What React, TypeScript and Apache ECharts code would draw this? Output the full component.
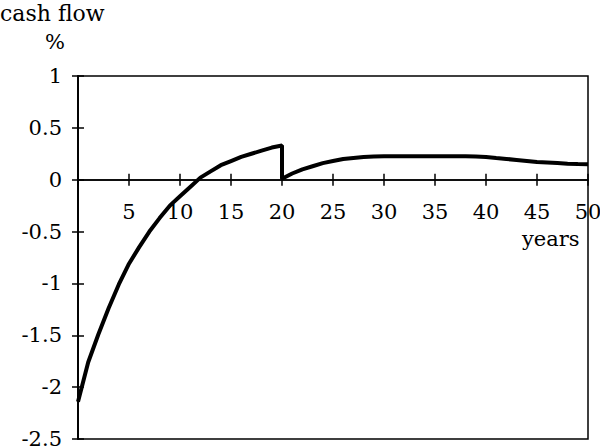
import React, { useEffect, useRef } from "react";
import * as echarts from "echarts";

const years = [
  0, 1, 2, 3, 4, 5, 6, 7, 8, 9, 10, 11, 12, 13, 14, 15, 16, 17, 18, 19, 20, 20,
  21, 22, 23, 24, 25, 26, 27, 28, 29, 30, 31, 32, 33, 34, 35, 36, 37, 38, 39,
  40, 41, 42, 43, 44, 45, 46, 47, 48, 49, 50,
];
const cashFlow = [
  -2.14, -1.76, -1.49, -1.24, -1.01, -0.81, -0.65, -0.5, -0.37, -0.25, -0.16,
  -0.07, 0.02, 0.08, 0.14, 0.18, 0.22, 0.25, 0.28, 0.31, 0.33, 0.01, 0.06, 0.1,
  0.13, 0.16, 0.18, 0.2, 0.21, 0.22, 0.225, 0.226, 0.226, 0.226, 0.226, 0.226,
  0.226, 0.226, 0.226, 0.226, 0.224, 0.22, 0.21, 0.2, 0.19, 0.18, 0.17, 0.165,
  0.16, 0.155, 0.152, 0.15,
];
const yTicks = { min: -2.5, max: 1, interval: 0.5 };
const xTicks = { min: 0, max: 50, interval: 5 };
const yTitle = "cash flow";
const yUnit = "%";
const xTitle = "years";

const FONT = "DejaVu Serif";
const FS = 21;

const W = 600;
const H = 446;
const GRID = { left: 78, right: 12, top: 76, bottom: 7 };

export default function App() {
  const ref = useRef<HTMLDivElement>(null);
  useEffect(() => {
    const chart = echarts.init(ref.current!, null, { renderer: "svg" });
    const data = years.map((y, i) => [y, cashFlow[i]]);
    const axisText = { color: "#000", fontFamily: FONT, fontSize: FS };
    const plotH = H - GRID.top - GRID.bottom;
    const plotW = W - GRID.left - GRID.right;
    const span = yTicks.max - yTicks.min;
    const zeroFromBottom = (plotH * (0 - yTicks.min)) / span;
    const zeroFromTop = (plotH * (yTicks.max - 0)) / span;
    const lineSt = { color: "#000", width: 1.5 };
    chart.setOption({
      animation: false,
      backgroundColor: "#fff",
      grid: {
        ...GRID,
        show: true,
        borderColor: "#000",
        borderWidth: 1.5,
        containLabel: false,
        outerBoundsMode: "none",
      },
      xAxis: [
        {
          type: "value",
          ...xTicks,
          position: "bottom",
          offset: -zeroFromBottom,
          axisLine: { show: true, onZero: false, lineStyle: lineSt },
          axisTick: { show: true, length: 6, lineStyle: lineSt },
          axisLabel: {
            ...axisText,
            margin: 22,
            formatter: (v: number) => (v === 0 ? "" : String(v)),
          },
          splitLine: { show: false },
        },
        {
          // upper half of the crossing ticks on the zero line
          type: "value",
          ...xTicks,
          position: "top",
          offset: -zeroFromTop,
          axisLine: { show: true, onZero: false, lineStyle: lineSt },
          axisTick: { show: true, length: 6, lineStyle: lineSt },
          axisLabel: { show: false },
          splitLine: { show: false },
        },
      ],
      yAxis: [
        {
          type: "value",
          ...yTicks,
          position: "left",
          axisLine: { show: true, onZero: false, lineStyle: lineSt },
          axisTick: { show: true, length: 6, lineStyle: lineSt },
          axisLabel: { ...axisText, margin: 16, formatter: (v: number) => String(v) },
          splitLine: { show: false },
        },
        {
          // inner half of the crossing ticks on the left axis
          type: "value",
          ...yTicks,
          position: "right",
          offset: -plotW,
          axisLine: { show: true, onZero: false, lineStyle: lineSt },
          axisTick: { show: true, length: 6, lineStyle: lineSt },
          axisLabel: { show: false },
          splitLine: { show: false },
        },
      ],
      series: [
        {
          type: "line",
          data,
          xAxisIndex: 0,
          yAxisIndex: 0,
          showSymbol: false,
          symbol: "none",
          lineStyle: { color: "#000", width: 4 },
          z: 5,
        },
      ],
      graphic: [
        {
          type: "text",
          left: 0,
          top: 2,
          style: { text: yTitle, fontFamily: FONT, fontSize: 22, fill: "#000" },
        },
        {
          type: "text",
          left: 45,
          top: 31,
          style: { text: yUnit, fontFamily: FONT, fontSize: FS, fill: "#000" },
        },
        {
          type: "text",
          left: 522,
          top: 228,
          style: { text: xTitle, fontFamily: FONT, fontSize: FS, fill: "#000" },
        },
      ],
    });
    return () => chart.dispose();
  }, []);
  return <div ref={ref} style={{ width: W, height: H, position: "fixed", left: 0, top: 0 }} />;
}
